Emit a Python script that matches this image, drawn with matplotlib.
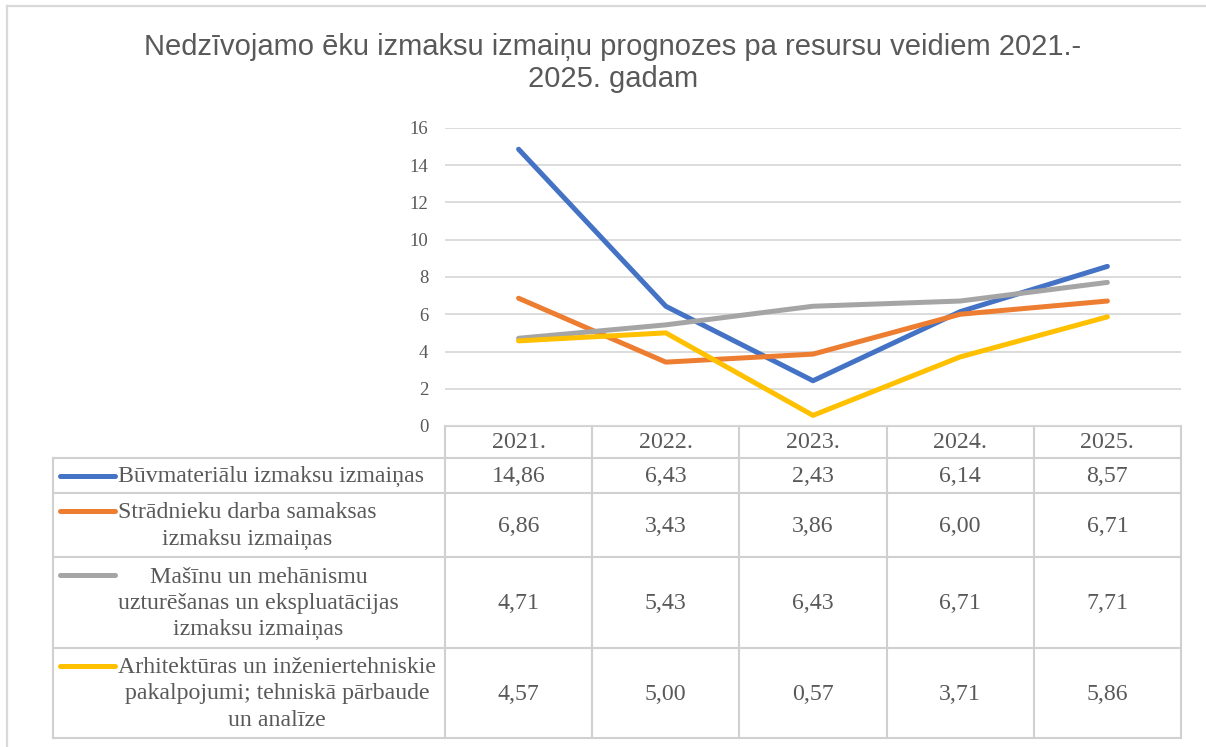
import matplotlib
matplotlib.use("Agg")
import matplotlib.pyplot as plt
import numpy as np

# data
years = ["2021.", "2022.", "2023.", "2024.", "2025."]
series_names = [
    "Būvmateriālu izmaksu izmaiņas",
    "Strādnieku darba samaksas\nizmaksu izmaiņas",
    "Mašīnu un mehānismu\nuzturēšanas un ekspluatācijas\nizmaksu izmaiņas",
    "Arhitektūras un inženiertehniskie\npakalpojumi; tehniskā pārbaude\nun analīze",
]
buvmaterialu = [14.86, 6.43, 2.43, 6.14, 8.57]
stradnieku = [6.86, 3.43, 3.86, 6.00, 6.71]
masinu = [4.71, 5.43, 6.43, 6.71, 7.71]
arhitekturas = [4.57, 5.00, 0.57, 3.71, 5.86]
series = [buvmaterialu, stradnieku, masinu, arhitekturas]
colors = ["#4472C4", "#ED7D31", "#A5A5A5", "#FFC000"]

title = "Nedzīvojamo ēku izmaksu izmaiņu prognozes pa resursu veidiem 2021.-\n2025. gadam"

W, H = 1206, 747
fig = plt.figure(figsize=(W / 100, H / 100), dpi=100)

txt_col = "#595959"
grid_col = "#D9D9D9"
serif = ["Liberation Serif", "DejaVu Serif"]

# layout in pixels
px_left, px_right = 445, 1181
px_top, px_zero = 128, 426
row_edges = [426, 458, 493, 557, 648, 738]
tbl_left = 53

# overlay axes in pixel coords (table, border, title)
ov = fig.add_axes([0, 0, 1, 1])
ov.set_xlim(0, W)
ov.set_ylim(H, 0)
ov.axis("off")

# chart axes
ax = fig.add_axes([px_left / W, 1 - px_zero / H, (px_right - px_left) / W, (px_zero - px_top) / H])
x = np.arange(len(years))
for vals, c in zip(series, colors):
    ax.plot(x, vals, color=c, lw=3.6, solid_capstyle="round", solid_joinstyle="round", zorder=3)
ax.set_xlim(-0.5, len(years) - 0.5)
ax.set_ylim(0, 16)
ax.set_yticks(range(0, 17, 2))
ax.set_xticks([])
ax.grid(axis="y", color=grid_col, lw=1.3)
ax.set_axisbelow(True)
for s in ax.spines.values():
    s.set_visible(False)
ax.tick_params(axis="y", length=0, pad=12, labelcolor=txt_col, labelsize=13.5)
for lab in ax.get_yticklabels():
    lab.set_family(serif)
ax.patch.set_alpha(0)

# outer border
ov.plot([7, 7], [6, H], color=grid_col, lw=1.6)
ov.plot([7, W], [6, 6], color=grid_col, lw=1.6)

# title
ov.text(613, 63, title, ha="center", va="center", fontsize=21, color=txt_col,
        family=["Liberation Sans", "DejaVu Sans"], linespacing=1.15)

# table grid
col_w = (px_right - px_left) / len(years)
col_edges = [px_left + i * col_w for i in range(len(years) + 1)]
lc = "#D0D0D0"
ov.plot([px_left, px_right], [row_edges[0], row_edges[0]], color=lc, lw=1.5)
for y in row_edges[1:]:
    ov.plot([tbl_left, px_right], [y, y], color=lc, lw=1.5)
for xe in col_edges:
    ov.plot([xe, xe], [row_edges[0], row_edges[-1]], color=lc, lw=1.5)
ov.plot([tbl_left, tbl_left], [row_edges[1], row_edges[-1]], color=lc, lw=1.5)

fs = 17.2
# header
for i, yr in enumerate(years):
    ov.text((col_edges[i] + col_edges[i + 1]) / 2, (row_edges[0] + row_edges[1]) / 2 + 1, yr,
            ha="center", va="center", fontsize=fs, color=txt_col, family=serif)

# rows
line_px = 27.5
for r, (name, vals, c) in enumerate(zip(series_names, series, colors)):
    yc = (row_edges[r + 1] + row_edges[r + 2]) / 2
    n = name.count("\n") + 1
    ov.text(118, yc + 1, name, ha="left", va="center", multialignment="center",
            fontsize=fs, color=txt_col, family=serif, linespacing=1.32)
    ky = yc - (n - 1) / 2 * line_px
    ov.plot([60, 115], [ky, ky], color=c, lw=3.6, solid_capstyle="round")
    for i, v in enumerate(vals):
        ov.text((col_edges[i] + col_edges[i + 1]) / 2, yc + 1, f"{v:.2f}".replace(".", ","),
                ha="center", va="center", fontsize=fs, color=txt_col, family=serif)

fig.savefig("out.png", dpi=100)
